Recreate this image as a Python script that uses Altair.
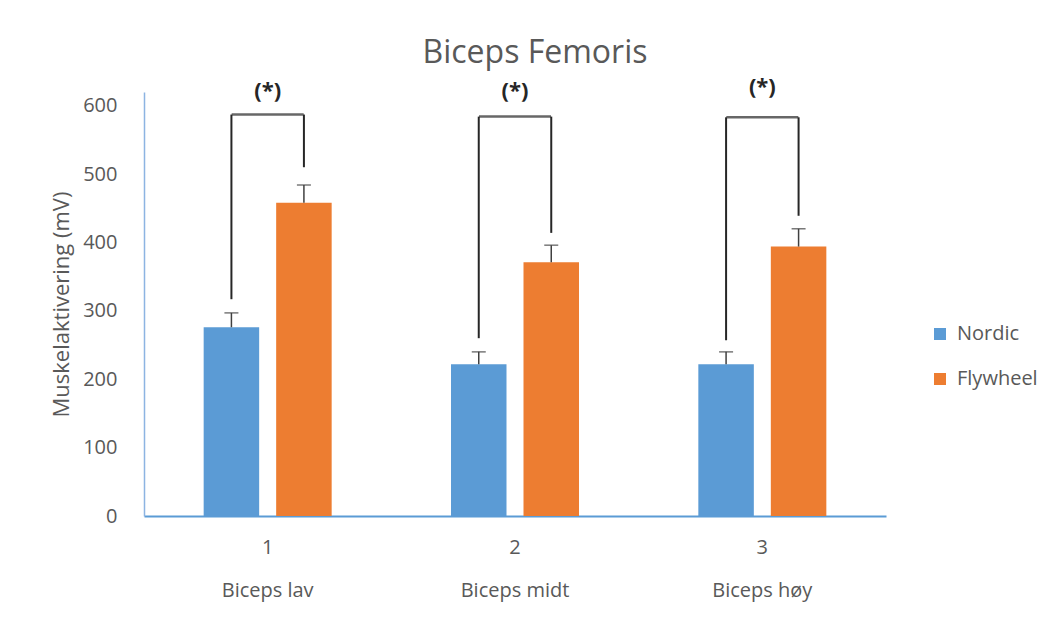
import altair as alt
import pandas as pd

# ---- data ----
groups = ["1", "2", "3"]
group_names = ["Biceps lav", "Biceps midt", "Biceps høy"]
series = ["Nordic", "Flywheel"]
nordic = [276, 222, 222]
flywheel = [458, 371, 394]
nordic_err = [21, 18, 18]
flywheel_err = [26, 25, 26]
bracket_top = [587, 584, 583]
bracket_nordic_end = [317, 260, 257]
bracket_flywheel_end = [510, 414, 439]
star_y = [621, 621, 627]
star_text = ["(*)", "(*)", "(*)"]
y_ticks = [0, 100, 200, 300, 400, 500, 600]
colors = ["#5B9BD5", "#ED7D31"]

rows = []
for i, g in enumerate(groups):
    rows.append(dict(group=g, series="Nordic", value=nordic[i],
                     hi=nordic[i] + nordic_err[i],
                     b_end=bracket_nordic_end[i], b_top=bracket_top[i]))
    rows.append(dict(group=g, series="Flywheel", value=flywheel[i],
                     hi=flywheel[i] + flywheel_err[i],
                     b_end=bracket_flywheel_end[i], b_top=bracket_top[i]))
df = pd.DataFrame(rows)
gdf = pd.DataFrame({"group": groups, "top": bracket_top,
                    "star_y": star_y, "star": star_text})

FONT = "Open Sans"
TXT = "#595959"

label_expr = "[datum.label, " + " : ".join(
    [f"datum.label == '{g}' ? '{n}'" for g, n in zip(groups, group_names)]
) + " : '']"

X = alt.X("group:N", sort=groups,
          scale=alt.Scale(paddingInner=0, paddingOuter=0),
          axis=alt.Axis(title=None, labelAngle=0, labelExpr=label_expr,
                        labelLineHeight=43, labelPadding=21, labelFontSize=20,
                        labelFont=FONT, labelColor=TXT, ticks=False, tickSize=0,
                        domainColor="#5B9BD5", domainWidth=2, grid=False))
XO = alt.XOffset("series:N", sort=series,
                 scale=alt.Scale(paddingInner=0.2345, paddingOuter=0.823))

y_axis = alt.Axis(values=y_ticks, title="Muskelaktivering (mV)", grid=False,
                  ticks=False, tickSize=0, labelPadding=27, labelFontSize=20,
                  labelFont=FONT, labelColor=TXT, titleFont=FONT,
                  titleFontSize=22, titleFontWeight="normal", titleColor=TXT,
                  titlePadding=9, domainColor="#8DB4E2", domainWidth=1.5)
yscale = alt.Scale(domain=[0, 620], nice=False)


def Y(field):
    return alt.Y(f"{field}:Q", scale=yscale, axis=y_axis)


base = alt.Chart(df)

bars = base.mark_bar().encode(
    x=X, xOffset=XO, y=Y("value"),
    color=alt.Color("series:N", sort=series,
                    scale=alt.Scale(domain=series, range=colors),
                    legend=alt.Legend(orient="none", legendX=786, legendY=232,
                                      title=None, symbolType="square",
                                      symbolSize=144, symbolStrokeWidth=0,
                                      labelFontSize=20, labelFont=FONT,
                                      labelColor=TXT, rowPadding=25,
                                      labelOffset=7, padding=0)),
)

err_rule = base.mark_rule(color="#404040", strokeWidth=1.5).encode(
    x=X, xOffset=XO, y=Y("value"), y2="hi:Q")
err_cap = base.mark_tick(color="#404040", thickness=1.5, size=14).encode(
    x=X, xOffset=XO, y=Y("hi"))

br_vert = base.mark_rule(color="#262626", strokeWidth=2).encode(
    x=X, xOffset=XO, y=Y("b_end"), y2="b_top:Q")
br_horz = alt.Chart(gdf).mark_tick(color="#262626", thickness=2.5, size=72).encode(
    x=X, y=Y("top"))
stars = alt.Chart(gdf).mark_text(font=FONT, fontSize=22, fontWeight="bold",
                                 color="#262626", baseline="middle").encode(
    x=X, y=Y("star_y"), text="star:N")

chart = alt.layer(bars, err_rule, err_cap, br_vert, br_horz, stars).properties(
    width=742, height=424,
    title=alt.TitleParams("Biceps Femoris", fontSize=32, font=FONT,
                          fontWeight="normal", color=TXT, dx=20, offset=6,
                          anchor="middle"),
    autosize=alt.AutoSizeParams(type="none"),
    padding={"left": 144, "top": 92, "right": 163, "bottom": 114},
).configure(font=FONT).configure_view(stroke=None)

chart.save("out.html", embed_options={"renderer": "svg", "actions": False})
